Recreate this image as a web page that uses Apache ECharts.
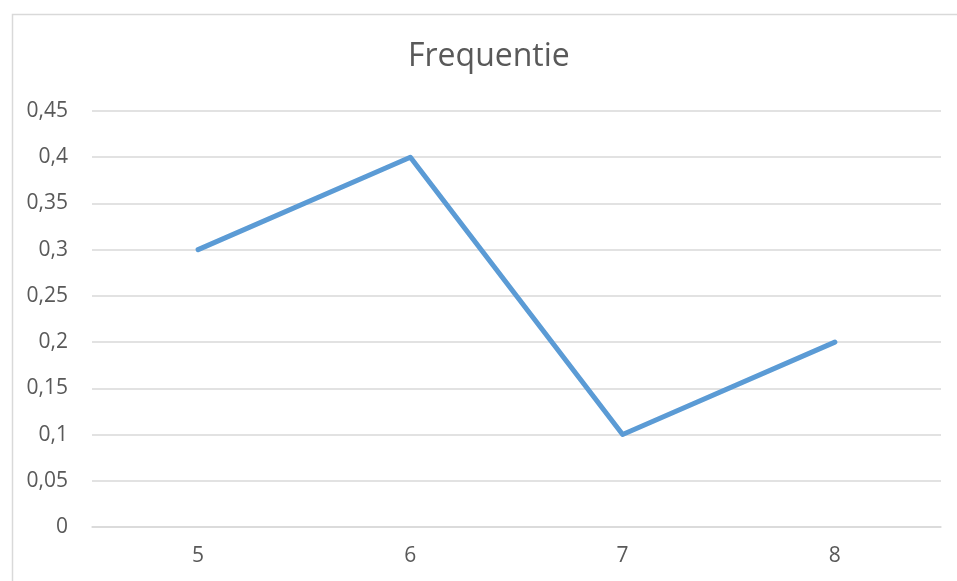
<!DOCTYPE html>
<html><head><meta charset="utf-8">
<script src="https://cdn.jsdelivr.net/npm/echarts@6/dist/echarts.min.js"></script>
<style>html,body{margin:0;padding:0;background:#fff}#c{width:957px;height:581px}</style>
</head><body><div id="c"></div>
<script>
const title = 'Frequentie';
const categories = ['5', '6', '7', '8'];
const values = [0.3, 0.4, 0.1, 0.2];
const yMin = 0, yMax = 0.45, yStep = 0.05;

const chart = echarts.init(document.getElementById('c'), null, {renderer: 'canvas'});
const font = '"Open Sans", "Noto Sans", sans-serif';
chart.setOption({
  animation: false,
  backgroundColor: '#fff',
  graphic: [{
    type: 'rect', left: 10, top: 12, silent: true,
    shape: {width: 1000, height: 1000},
    style: {fill: 'none', stroke: '#d9d9d9', lineWidth: 1.5}
  }],
  title: {
    text: title, left: 408, top: 41, padding: 0,
    textStyle: {fontFamily: font, fontSize: 32, fontWeight: 'normal', color: '#595959'}
  },
  grid: {left: 92, right: 16, top: 111, bottom: 54, containLabel: false},
  xAxis: {
    type: 'category', data: categories, boundaryGap: true,
    axisLine: {show: true, lineStyle: {color: '#d9d9d9', width: 1.5}},
    axisTick: {show: false},
    axisLabel: {fontFamily: font, fontSize: 21, color: '#595959', margin: 19}
  },
  yAxis: {
    type: 'value', min: yMin, max: yMax, interval: yStep,
    axisLine: {show: false}, axisTick: {show: false},
    splitLine: {lineStyle: {color: '#d9d9d9', width: 1.5}},
    axisLabel: {fontFamily: font, fontSize: 21, color: '#595959', margin: 24,
      formatter: v => String(Math.round(v * 100) / 100).replace('.', ',')}
  },
  series: [{
    type: 'line', data: values, symbol: 'none',
    lineStyle: {color: '#5b9bd5', width: 5, cap: 'round', join: 'round'}
  }]
});
</script></body></html>
